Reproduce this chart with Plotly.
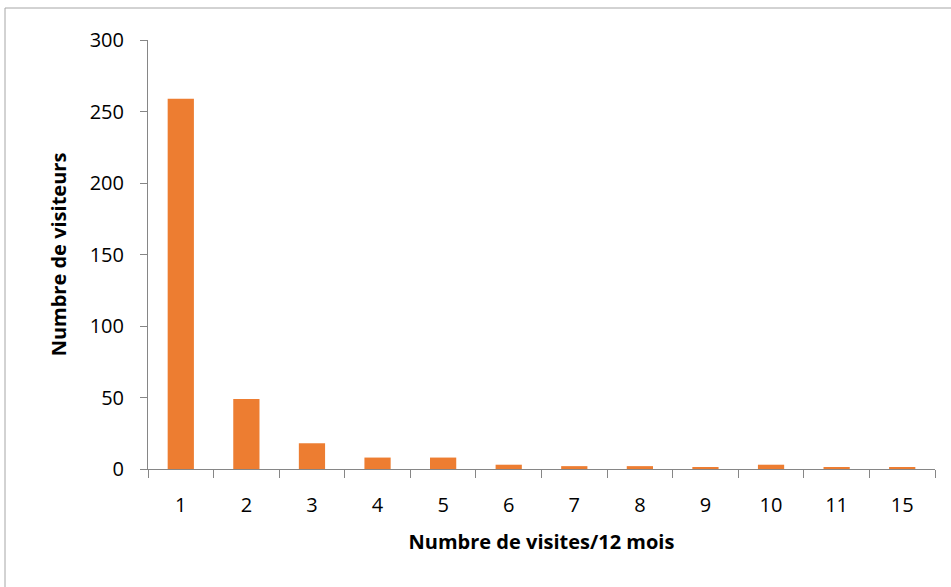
import plotly.graph_objects as go

categories = ["1", "2", "3", "4", "5", "6", "7", "8", "9", "10", "11", "15"]
visitors = [259, 49, 18, 8, 8, 3, 2, 2, 1, 3, 1, 1]
y_ticks = [0, 50, 100, 150, 200, 250, 300]

W, H = 951, 587
L, R, T, B = 148, 16, 40, 118
pw, ph = W - L - R, H - T - B

fig = go.Figure(go.Bar(x=categories, y=visitors, marker_color="#ED7D31",
                       marker_line_width=0))

font = "Open Sans, sans-serif"
axcol = "#868686"
fig.update_layout(
    width=W, height=H,
    margin=dict(l=L, r=R, t=T, b=B, autoexpand=False),
    plot_bgcolor="white", paper_bgcolor="white",
    bargap=0.6, showlegend=False,
    font=dict(family=font, size=20, color="black"),
    xaxis=dict(type="category", tickson="boundaries", ticks="outside", ticklen=8,
               tickcolor=axcol, showline=True, linecolor=axcol, linewidth=1,
               showgrid=False, tickfont=dict(size=20), automargin=False,
               ticklabelstandoff=18,
               title=dict(text="<b>Numbre de visites/12 mois</b>", font=dict(size=20), standoff=17)),
    yaxis=dict(range=[0, 300], tickvals=y_ticks, ticks="outside", ticklen=7,
               tickcolor=axcol, showline=True, linecolor=axcol, linewidth=1,
               showgrid=False, zeroline=False, tickfont=dict(size=20), automargin=False,
               ticklabelstandoff=12,
               title=dict(text="<b>Numbre de visiteurs</b>", font=dict(size=20), standoff=17)),
    shapes=[dict(type="rect", xref="paper", yref="paper",
                 x0=(5 - L) / pw, x1=(W + 10 - L) / pw,
                 y0=(H - B - 8) / ph, y1=(H - B - (H + 10)) / ph,
                 line=dict(color="#A6A6A6", width=1), fillcolor="rgba(0,0,0,0)",
                 layer="below")],
)

fig.write_html("out.html", config={"displayModeBar": False},
               post_script="document.body.style.margin='0';document.body.style.overflow='hidden';")
